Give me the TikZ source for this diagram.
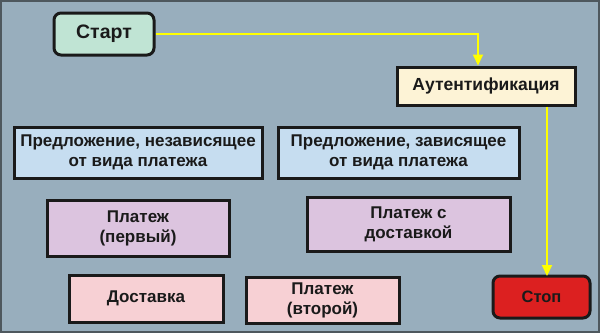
\documentclass[tikz,border=0pt]{standalone}
\usepackage{fontspec}
\setmainfont{Liberation Sans}
\usetikzlibrary{arrows.meta}
\definecolor{bg}{HTML}{98AEBD}
\definecolor{frame}{HTML}{4E585E}
\definecolor{startc}{HTML}{C0E4D4}
\definecolor{authc}{HTML}{FDF3D6}
\definecolor{offerc}{HTML}{C6DDF0}
\definecolor{payc}{HTML}{DCC4DF}
\definecolor{delc}{HTML}{F7D0D4}
\definecolor{stopc}{HTML}{DC2020}
\definecolor{linec}{HTML}{1A1A1A}
\definecolor{flow}{HTML}{FFFF00}
\begin{document}
\begin{tikzpicture}[x=1pt,y=-1pt,
  box/.style={draw=linec,line width=3pt,font=\bfseries\fontsize{17}{20}\selectfont,text=linec,align=center,inner sep=0pt},
  offertext/.style={font=\bfseries\fontsize{17}{20}\selectfont},
  flowline/.style={draw=flow,line width=2pt,-{Triangle[length=11pt,width=10pt]}}]
\fill[bg] (0,0) rectangle (600,333);
\draw[frame,line width=2pt] (1,1) rectangle (599,332);
\useasboundingbox (0,0) rectangle (600,333);
% nodes
\node[box,fill=startc,rounded corners=7pt,minimum width=100pt,minimum height=42pt,font=\bfseries\fontsize{19.5}{22}\selectfont] (start) at (104,34) {Старт};
\node[box,fill=authc,minimum width=178pt,minimum height=38pt,font=\bfseries\fontsize{17.5}{20}\selectfont] (auth) at (486,86) {Аутентификация};
\node[box,offertext,fill=offerc,minimum width=248pt,minimum height=51pt] (offerA) at (138,152.5) {Предложение, независящее\\от вида платежа};
\node[box,offertext,fill=offerc,minimum width=241pt,minimum height=51pt] (offerB) at (398.5,152.5) {Предложение, зависящее\\от вида платежа};
\node[box,fill=payc,minimum width=182pt,minimum height=56pt] (pay1) at (138,228) {Платеж\\(первый)};
\node[box,fill=payc,minimum width=203pt,minimum height=54pt] (payD) at (408.5,224) {Платеж с\\доставкой};
\node[box,fill=delc,minimum width=154pt,minimum height=47pt] (del) at (146,298.5) {Доставка};
\node[box,fill=delc,minimum width=153pt,minimum height=46pt] (pay2) at (322.5,300) {Платеж\\(второй)};
\node[box,fill=stopc,rounded corners=7pt,minimum width=97pt,minimum height=42pt,font=\bfseries\fontsize{16.5}{20}\selectfont] (stop) at (541.5,297) {Стоп};
% connectors
\draw[flowline] (start.east) -| ([xshift=-8pt]auth.north);
\draw[flowline] ([xshift=61pt]auth.south) -- ([xshift=61pt,yshift=-1.5pt]auth.south |- stop.north);
\end{tikzpicture}
\end{document}
